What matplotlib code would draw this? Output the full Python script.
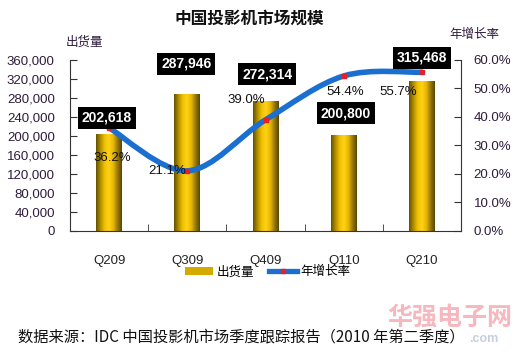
import numpy as np
import matplotlib
matplotlib.use("Agg")
from matplotlib import pyplot as plt
from matplotlib.path import Path
from matplotlib.patches import PathPatch, Patch
from matplotlib.lines import Line2D
from matplotlib.colors import LinearSegmentedColormap
from matplotlib.ticker import FuncFormatter, MultipleLocator, FixedLocator

plt.rcParams['font.family'] = 'Liberation Sans'

# data
quarters = ["Q209", "Q309", "Q409", "Q110", "Q210"]
shipments = [202618, 287946, 272314, 200800, 315468]
growth = [0.362, 0.211, 0.390, 0.544, 0.557]
shipment_labels = ["202,618", "287,946", "272,314", "200,800", "315,468"]
growth_labels = ["36.2%", "21.1%", "39.0%", "54.4%", "55.7%"]

# label anchors (x in categories, y in left axis units)
box_pos = [(-0.03, 238000), (0.985, 351600), (2.02, 330500), (3.03, 248400), (4.0, 364200)]
pct_pos = [(0.04, 153700), (0.74, 126300), (1.76, 275800), (3.02, 292600), (3.70, 292600)]

tick_col = "#2e1c3c"
cjk = ["Noto Sans CJK SC", "Liberation Sans"]
gold = LinearSegmentedColormap.from_list(
    "gold", ["#665200", "#b08e00", "#f0c200", "#ffd21a", "#e8b800", "#9a7a00", "#5a4700"])


def smooth_path(xs, ys):
    # Catmull-Rom style bezier through the points
    pts = np.column_stack([xs, ys]).astype(float)
    ext = np.vstack([pts[0], pts, pts[-1]])
    verts = [pts[0]]
    codes = [Path.MOVETO]
    for i in range(1, len(ext) - 2):
        p0, p1, p2, p3 = ext[i - 1], ext[i], ext[i + 1], ext[i + 2]
        verts += [p1 + (p2 - p0) / 6, p2 - (p3 - p1) / 6, p2]
        codes += [Path.CURVE4] * 3
    return Path(verts, codes)


def main():
    fig = plt.figure(figsize=(5.2, 3.55), dpi=100)
    ax = fig.add_axes([0.1346, 0.3493, 0.752, 0.4817])
    x = np.arange(len(quarters))

    bars = ax.bar(x, shipments, width=0.33, facecolor="none", edgecolor="none")
    grad = np.linspace(0, 1, 64).reshape(1, -1)
    for b in bars:
        ax.imshow(grad, cmap=gold, aspect="auto", zorder=2,
                  extent=[b.get_x(), b.get_x() + b.get_width(), 0, b.get_height()])

    ax.set_xlim(-0.5, len(quarters) - 0.5)
    ax.set_ylim(0, 360000)
    ax.yaxis.set_major_locator(MultipleLocator(40000))
    ax.yaxis.set_major_formatter(FuncFormatter(lambda v, p: "{:,.0f}".format(v)))
    ax.set_xticks(x)
    ax.set_xticklabels(quarters)
    ax.xaxis.set_minor_locator(FixedLocator(x[:-1] + 0.5))
    ax.tick_params(axis="x", which="major", length=0, pad=17, labelsize=9.5, labelcolor="#222222")
    ax.tick_params(axis="x", which="minor", direction="in", length=5, color="#333333")
    ax.tick_params(axis="y", direction="in", length=5, pad=11, labelsize=9.5,
                   labelcolor=tick_col, color="#333333")
    for s in ["top", "right"]:
        ax.spines[s].set_visible(False)
    for s in ["left", "bottom"]:
        ax.spines[s].set_color("#333333")

    ax2 = ax.twinx()
    ax2.set_ylim(0, 0.6)
    ax2.yaxis.set_major_locator(MultipleLocator(0.1))
    ax2.yaxis.set_major_formatter(FuncFormatter(lambda v, p: "{:.1f}%".format(v * 100)))
    ax2.tick_params(axis="y", direction="in", length=5, pad=9, labelsize=9.5,
                    labelcolor=tick_col, color="#333333")
    for s in ["top", "left", "bottom"]:
        ax2.spines[s].set_visible(False)
    ax2.spines["right"].set_color("#333333")

    ax2.add_patch(PathPatch(smooth_path(x, growth), facecolor="none",
                            edgecolor="#1a6fd0", lw=4, capstyle="round", zorder=3))
    ax2.plot(x, growth, linestyle="none", marker="s", markersize=3.5,
             color="#e3202c", zorder=4)

    for (px, py), t in zip(box_pos, shipment_labels):
        ax2.text(px, py, t, transform=ax.transData, ha="center", va="center",
                 fontsize=10, fontweight="bold", color="white", zorder=6, clip_on=False,
                 bbox=dict(boxstyle="square,pad=0.3", facecolor="black", edgecolor="none"))
    for (px, py), t in zip(pct_pos, growth_labels):
        ax2.text(px, py, t, transform=ax.transData, ha="center", va="center",
                 fontsize=9.5, color="#111111", zorder=5)

    fig.text(0.48, 0.948, "中国投影机市场规模", ha="center", va="center",
             fontsize=12, fontweight="bold", family=cjk, color="#111111")
    fig.text(0.163, 0.882, "出货量", ha="center", va="center", fontsize=9,
             family=cjk, color=tick_col)
    fig.text(0.912, 0.903, "年增长率", ha="center", va="center", fontsize=9,
             family=cjk, color=tick_col)

    handles = [Patch(facecolor="#d4aa00", edgecolor="none"),
               Line2D([], [], color="#1a6fd0", lw=3.8, marker="s", markersize=3,
                      markerfacecolor="#e3202c", markeredgecolor="#e3202c")]
    fig.legend(handles, ["出货量", "年增长率"], loc="center", bbox_to_anchor=(0.515, 0.234),
               ncol=2, frameon=False, handlelength=2.2, handleheight=0.6,
               columnspacing=1.2, handletextpad=0.3,
               prop={"family": cjk, "size": 9})

    # watermark
    fig.text(0.865, 0.105, "华强电子网", ha="center", va="center", fontsize=18,
             fontweight="bold", family=cjk, color="#f4a6ae", alpha=0.8)
    fig.text(0.93, 0.045, ".com", ha="center", va="center", fontsize=9,
             fontweight="bold", color="#b8c4d4", alpha=0.8)

    fig.text(0.035, 0.05, "数据来源：IDC 中国投影机市场季度跟踪报告（2010 年第二季度）",
             ha="left", va="center", fontsize=11, color="#111111", family=cjk)

    fig.savefig("out.png", dpi=100)


if __name__ == '__main__':
    main()
